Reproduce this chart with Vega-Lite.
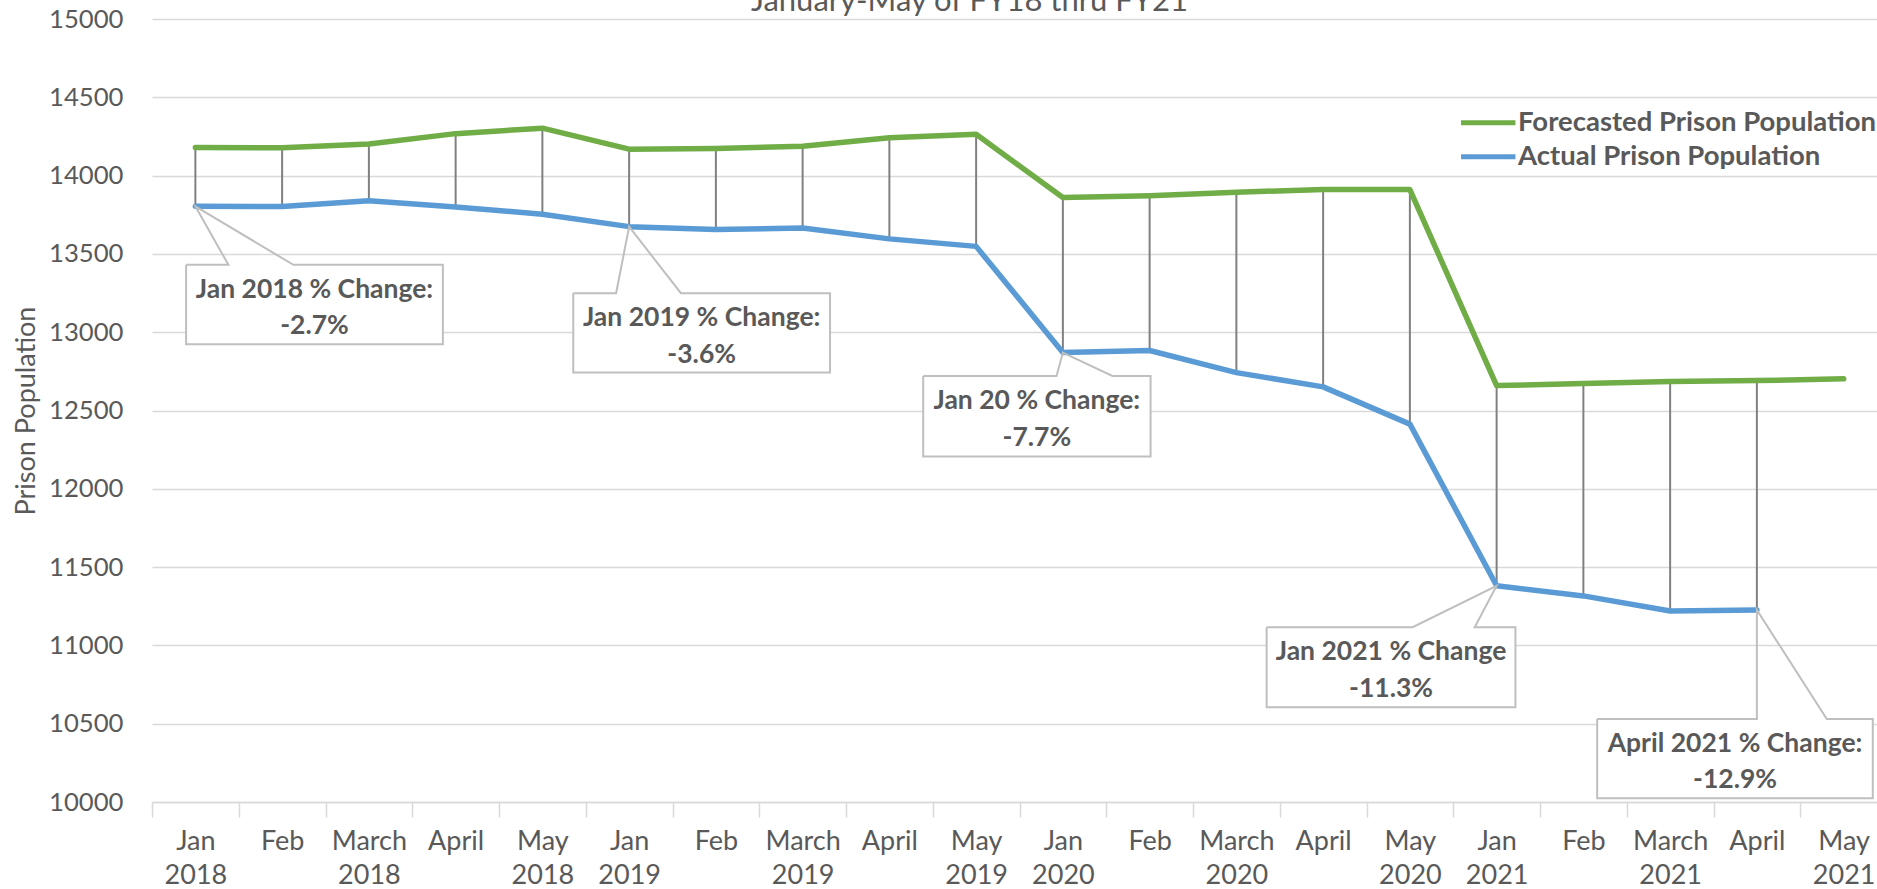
{
  "$schema": "https://vega.github.io/schema/vega-lite/v6.json",
  "width": 1735,
  "height": 783,
  "autosize": {"type": "none"},
  "padding": {"left": 152, "top": 19, "right": 0, "bottom": 87},
  "background": "white",
  "config": {"view": {"stroke": null}, "font": "Lato"},
  "title": {"text": "January-May of FY18 thru FY21", "font": "Lato", "fontSize": 31, "fontWeight": "normal", "color": "#595959", "offset": -12, "dx": -50, "anchor": "middle"},
  "datasets": {
    "pop": [
      {"i": 0, "forecast": 14179, "actual": 13804},
      {"i": 1, "forecast": 14178, "actual": 13802},
      {"i": 2, "forecast": 14202, "actual": 13840},
      {"i": 3, "forecast": 14268, "actual": 13800},
      {"i": 4, "forecast": 14303, "actual": 13753},
      {"i": 5, "forecast": 14169, "actual": 13674},
      {"i": 6, "forecast": 14173, "actual": 13656},
      {"i": 7, "forecast": 14188, "actual": 13665},
      {"i": 8, "forecast": 14241, "actual": 13596},
      {"i": 9, "forecast": 14264, "actual": 13548},
      {"i": 10, "forecast": 13860, "actual": 12870},
      {"i": 11, "forecast": 13872, "actual": 12883},
      {"i": 12, "forecast": 13894, "actual": 12742},
      {"i": 13, "forecast": 13911, "actual": 12651},
      {"i": 14, "forecast": 13911, "actual": 12413},
      {"i": 15, "forecast": 12659, "actual": 11381},
      {"i": 16, "forecast": 12672, "actual": 11316},
      {"i": 17, "forecast": 12685, "actual": 11220},
      {"i": 18, "forecast": 12691, "actual": 11226},
      {"i": 19, "forecast": 12702, "actual": null}
    ],
    "boxes": [
      {"x1": -0.107, "x2": 2.853, "y1": 13430, "y2": 12923, "tx": 1.373, "ty": 13176, "label": "Jan 2018 % Change:\n-2.7%"},
      {"x1": 4.356, "x2": 7.316, "y1": 13249, "y2": 12742, "tx": 5.836, "ty": 12995, "label": "Jan 2019 % Change:\n-3.6%"},
      {"x1": 8.39, "x2": 11.011, "y1": 12721, "y2": 12206, "tx": 9.7, "ty": 12463, "label": "Jan 20 % Change:\n-7.7%"},
      {"x1": 12.349, "x2": 15.217, "y1": 11116, "y2": 10605, "tx": 13.783, "ty": 10860, "label": "Jan 2021 % Change\n-11.3%"},
      {"x1": 16.159, "x2": 19.336, "y1": 10530, "y2": 10024, "tx": 17.748, "ty": 10277, "label": "April 2021 % Change:\n-12.9%"}
    ],
    "outline": [
      {"cid": 1, "ord": 0, "cx": -0.107, "cy": 13430}, {"cid": 1, "ord": 1, "cx": 0.381, "cy": 13430}, {"cid": 1, "ord": 2, "cx": 0, "cy": 13804}, {"cid": 1, "ord": 3, "cx": 1.13, "cy": 13430}, {"cid": 1, "ord": 4, "cx": 2.853, "cy": 13430}, {"cid": 1, "ord": 5, "cx": 2.853, "cy": 12923}, {"cid": 1, "ord": 6, "cx": -0.107, "cy": 12923}, {"cid": 1, "ord": 7, "cx": -0.107, "cy": 13430},
      {"cid": 2, "ord": 0, "cx": 4.356, "cy": 13249}, {"cid": 2, "ord": 1, "cx": 4.85, "cy": 13249}, {"cid": 2, "ord": 2, "cx": 5, "cy": 13674}, {"cid": 2, "ord": 3, "cx": 5.597, "cy": 13249}, {"cid": 2, "ord": 4, "cx": 7.316, "cy": 13249}, {"cid": 2, "ord": 5, "cx": 7.316, "cy": 12742}, {"cid": 2, "ord": 6, "cx": 4.356, "cy": 12742}, {"cid": 2, "ord": 7, "cx": 4.356, "cy": 13249},
      {"cid": 3, "ord": 0, "cx": 8.39, "cy": 12721}, {"cid": 3, "ord": 1, "cx": 9.927, "cy": 12721}, {"cid": 3, "ord": 2, "cx": 10, "cy": 12870}, {"cid": 3, "ord": 3, "cx": 10.571, "cy": 12721}, {"cid": 3, "ord": 4, "cx": 11.011, "cy": 12721}, {"cid": 3, "ord": 5, "cx": 11.011, "cy": 12206}, {"cid": 3, "ord": 6, "cx": 8.39, "cy": 12206}, {"cid": 3, "ord": 7, "cx": 8.39, "cy": 12721},
      {"cid": 4, "ord": 0, "cx": 12.349, "cy": 11116}, {"cid": 4, "ord": 1, "cx": 14.032, "cy": 11116}, {"cid": 4, "ord": 2, "cx": 15, "cy": 11381}, {"cid": 4, "ord": 3, "cx": 14.747, "cy": 11116}, {"cid": 4, "ord": 4, "cx": 15.217, "cy": 11116}, {"cid": 4, "ord": 5, "cx": 15.217, "cy": 10605}, {"cid": 4, "ord": 6, "cx": 12.349, "cy": 10605}, {"cid": 4, "ord": 7, "cx": 12.349, "cy": 11116},
      {"cid": 5, "ord": 0, "cx": 16.159, "cy": 10530}, {"cid": 5, "ord": 1, "cx": 18, "cy": 10530}, {"cid": 5, "ord": 2, "cx": 18, "cy": 11226}, {"cid": 5, "ord": 3, "cx": 18.806, "cy": 10530}, {"cid": 5, "ord": 4, "cx": 19.336, "cy": 10530}, {"cid": 5, "ord": 5, "cx": 19.336, "cy": 10024}, {"cid": 5, "ord": 6, "cx": 16.159, "cy": 10024}, {"cid": 5, "ord": 7, "cx": 16.159, "cy": 10530}
    ]
  },
  "layer": [
    {
      "data": {"name": "pop"},
      "transform": [{"filter": "datum.actual != null"}],
      "mark": {"type": "rule", "color": "#808080", "strokeWidth": 2},
      "encoding": {
        "x": {"field": "i", "type": "quantitative", "title": null,
          "scale": {"domain": [-0.5, 19.5], "nice": false, "zero": false},
          "axis": {
            "values": [0,1,2,3,4,5,6,7,8,9,10,11,12,13,14,15,16,17,18,19],
            "labelExpr": "split(['Jan|2018','Feb','March|2018','April','May|2018','Jan|2019','Feb','March|2019','April','May|2019','Jan|2020','Feb','March|2020','April','May|2020','Jan|2021','Feb','March|2021','April','May|2021'][datum.value], '|')",
            "tickOffset": -43.37, "labelOffset": 43.37,
            "tickSize": 15, "tickColor": "#d9d9d9", "tickWidth": 1.5,
            "domainColor": "#d9d9d9", "domainWidth": 1.5, "grid": false,
            "labelFont": "Lato", "labelFontSize": 27, "labelColor": "#595959",
            "labelLineHeight": 34, "labelPadding": 11,
            "labelOverlap": false, "labelBound": false, "labelFlush": false
          }},
        "y": {"field": "actual", "type": "quantitative", "title": "Prison Population",
          "scale": {"domain": [10000, 15000], "nice": false, "zero": false},
          "axis": {
            "values": [10000,10500,11000,11500,12000,12500,13000,13500,14000,14500,15000],
            "format": "d",
            "grid": true, "gridColor": "#d9d9d9", "gridWidth": 1.5,
            "domain": false, "ticks": false,
            "labelFont": "Lato", "labelFontSize": 25.7, "labelColor": "#595959", "labelPadding": 29,
            "titleFont": "Lato", "titleFontSize": 27, "titleFontWeight": "normal", "titleColor": "#595959", "titlePadding": 8
          }},
        "y2": {"field": "forecast"}
      }
    },
    {
      "data": {"name": "pop"},
      "transform": [{"fold": ["forecast", "actual"], "as": ["key", "value"]},
        {"filter": "datum.value != null"},
        {"lookup": "key", "from": {"data": {"values": [{"key": "forecast", "series": "Forecasted Prison Population"}, {"key": "actual", "series": "Actual Prison Population"}]}, "key": "key", "fields": ["series"]}}],
      "mark": {"type": "line", "strokeWidth": 5.5, "strokeCap": "round", "strokeJoin": "round"},
      "encoding": {
        "x": {"field": "i", "type": "quantitative", "title": null, "scale": {"domain": [-0.5, 19.5], "nice": false, "zero": false}},
        "y": {"field": "value", "type": "quantitative", "title": "Prison Population", "scale": {"domain": [10000, 15000], "nice": false, "zero": false}},
        "color": {"field": "series", "type": "nominal",
          "scale": {"domain": ["Forecasted Prison Population", "Actual Prison Population"], "range": ["#70ad47", "#5b9bd5"]},
          "legend": {"title": null, "orient": "none", "legendX": 1322.5, "legendY": 90, "direction": "vertical",
            "symbolType": "M-2.72,0L2.72,0", "symbolSize": 400, "symbolStrokeWidth": 5,
            "labelFont": "Lato", "labelFontSize": 27.5, "labelFontWeight": "bold", "labelColor": "#595959",
            "labelOffset": 16, "rowPadding": 5, "padding": 0, "labelLimit": 600}}
      }
    },
    {
      "data": {"name": "boxes"},
      "mark": {"type": "rect", "fill": "white"},
      "encoding": {
        "x": {"field": "x1", "type": "quantitative", "title": null, "scale": {"domain": [-0.5, 19.5], "nice": false, "zero": false}},
        "x2": {"field": "x2"},
        "y": {"field": "y1", "type": "quantitative", "title": "Prison Population", "scale": {"domain": [10000, 15000], "nice": false, "zero": false}},
        "y2": {"field": "y2"}
      }
    },
    {
      "data": {"name": "outline"},
      "mark": {"type": "line", "color": "#bfbfbf", "strokeWidth": 2, "strokeJoin": "miter"},
      "encoding": {
        "x": {"field": "cx", "type": "quantitative", "title": null, "scale": {"domain": [-0.5, 19.5], "nice": false, "zero": false}},
        "y": {"field": "cy", "type": "quantitative", "title": "Prison Population", "scale": {"domain": [10000, 15000], "nice": false, "zero": false}},
        "detail": {"field": "cid", "type": "nominal"},
        "order": {"field": "ord", "type": "quantitative"}
      }
    },
    {
      "data": {"name": "boxes"},
      "mark": {"type": "text", "font": "Lato", "fontSize": 26.5, "fontWeight": "bold", "color": "#595959", "lineBreak": "\n", "lineHeight": 36.7, "align": "center", "baseline": "middle", "dy": -15},
      "encoding": {
        "x": {"field": "tx", "type": "quantitative", "title": null, "scale": {"domain": [-0.5, 19.5], "nice": false, "zero": false}},
        "y": {"field": "ty", "type": "quantitative", "title": "Prison Population", "scale": {"domain": [10000, 15000], "nice": false, "zero": false}},
        "text": {"field": "label", "type": "nominal"}
      }
    }
  ]
}
